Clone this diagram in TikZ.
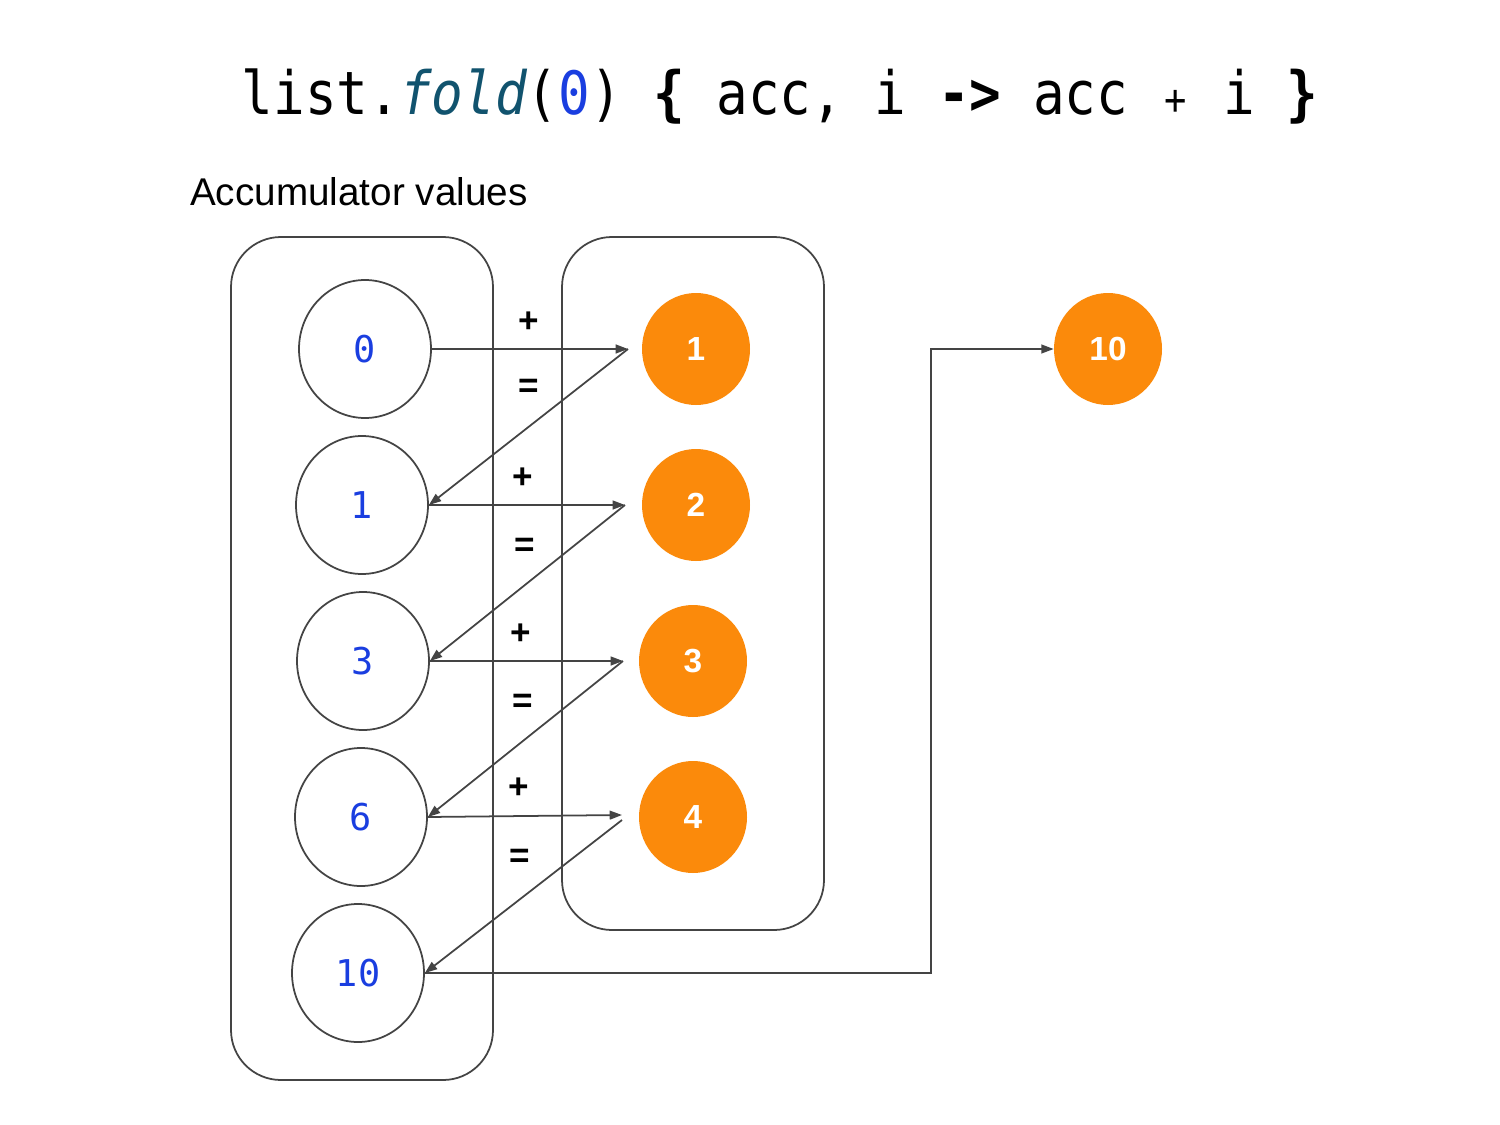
\documentclass[tikz,border=0pt]{standalone}
\usepackage{fontspec}
\setmainfont{Liberation Sans}
\newfontfamily\codefont{DejaVu Sans Mono}
\usetikzlibrary{arrows.meta,shapes.geometric}
\definecolor{strokegray}{HTML}{444444}
\definecolor{orangefill}{HTML}{FB8A0B}
\definecolor{numblue}{HTML}{1A3EE0}
\definecolor{foldteal}{HTML}{11536E}
\tikzset{
  accnode/.style={ellipse, draw=strokegray, line width=1pt, fill=white, minimum width=132*0.02cm, minimum height=138*0.02cm, inner sep=0pt, font=\codefont\fontsize{21}{21}\selectfont, text=numblue},
  elemnode/.style={ellipse, fill=orangefill, minimum width=108*0.02cm, minimum height=112*0.02cm, inner sep=0pt, font=\fontsize{19}{19}\selectfont\bfseries, text=white},
  groupbox/.style={draw=strokegray, line width=1pt, rounded corners=50*0.02cm},
  arr/.style={draw=strokegray, line width=1pt, -{Triangle[length=7pt,width=5pt]}},
  oplabel/.style={font=\fontsize{20}{20}\selectfont\bfseries, inner sep=0pt},
}
\begin{document}
\begin{tikzpicture}[x=0.02cm,y=-0.02cm]
\path[use as bounding box, fill=white] (0,0) rectangle (1500,1125);
% title
\node (title) at (780,97) {\scalebox{0.88}[1]{\codefont\fontsize{34}{34}\selectfont list.{\color{foldteal}\itshape fold}({\color{numblue}0}) {\bfseries\{} acc, i {\bfseries->} acc \makebox[0.602em]{\fontsize{24}{24}\selectfont +} i {\bfseries\}}}};
\node[anchor=west, font=\fontsize{22}{22}\selectfont] (acclabel) at (184,192) {Accumulator values};
% boxes
\draw[groupbox] (231,237) rectangle (493,1080);
\draw[groupbox] (562,237) rectangle (824,930);
% accumulator nodes
\node[accnode] (a0) at (365,349) {0};
\node[accnode] (a1) at (362,505) {1};
\node[accnode] (a2) at (363,661) {3};
\node[accnode] (a3) at (361,817) {6};
\node[accnode] (a4) at (358,973) {10};
% element nodes
\node[elemnode] (b1) at (696,349) {1};
\node[elemnode] (b2) at (696,505) {2};
\node[elemnode] (b3) at (693,661) {3};
\node[elemnode] (b4) at (693,817) {4};
\node[elemnode] (res) at (1108,349) {10};
% connector points
\coordinate (p1) at (628,349);
\coordinate (p2) at (625,505);
\coordinate (p3) at (623,661);
\coordinate (p4) at (622,815);
\coordinate (q4) at (622,820);
\coordinate (c1) at (931,973);
\coordinate (c2) at (931,349);
% arrows
\draw[arr] (a0.east) -- (p1);
\draw[arr] (p1) -- (a1.east);
\draw[arr] (a1.east) -- (p2);
\draw[arr] (p2) -- (a2.east);
\draw[arr] (a2.east) -- (p3);
\draw[arr] (p3) -- (a3.east);
\draw[arr] (a3.east) -- (p4);
\draw[arr] (q4) -- (a4.east);
\draw[arr] (a4.east) -- (c1) -- (c2) -- (res.west);
% labels
\node[oplabel] (plus1) at (529,322) {+};
\node[oplabel] (eq1) at (529,388) {=};
\node[oplabel] (plus2) at (523,478) {+};
\node[oplabel] (eq2) at (525,547) {=};
\node[oplabel] (plus3) at (521,634) {+};
\node[oplabel] (eq3) at (523,703) {=};
\node[oplabel] (plus4) at (519,788) {+};
\node[oplabel] (eq4) at (520,858) {=};
\end{tikzpicture}
\end{document}
